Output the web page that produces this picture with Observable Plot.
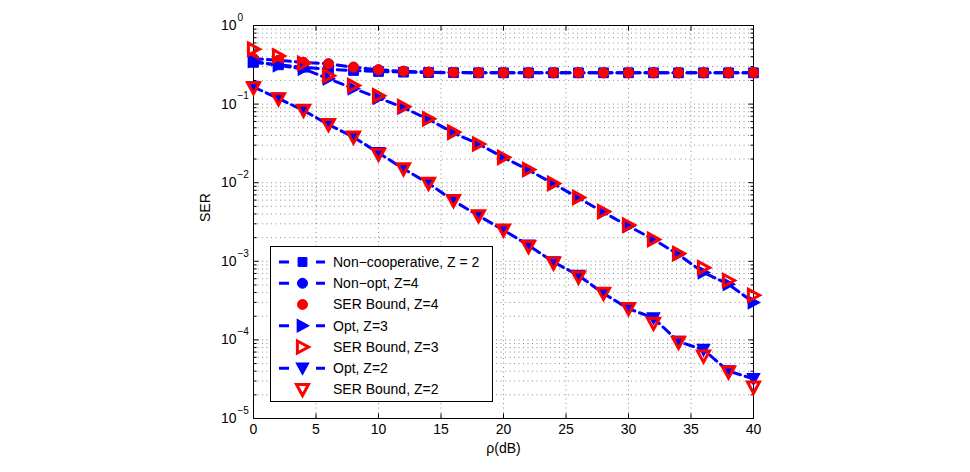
<!DOCTYPE html>
<html>
<head>
<meta charset="utf-8">
<script src="https://cdn.jsdelivr.net/npm/d3@7"></script>
<script src="https://cdn.jsdelivr.net/npm/@observablehq/plot@0.6"></script>
<style>
  html, body { margin: 0; padding: 0; background: #fff; }
  #chart { width: 970px; height: 472px; }
</style>
</head>
<body>
<div id="chart"></div>
<script>
// ---- data ----
const rho = [0, 2, 4, 6, 8, 10, 12, 14, 16, 18, 20, 22, 24, 26, 28, 30, 32, 34, 36, 38, 40];
const serNonCoopZ2 = [0.34, 0.316, 0.295, 0.276, 0.268, 0.26, 0.255, 0.252, 0.251, 0.25, 0.25, 0.25, 0.25, 0.25, 0.25, 0.25, 0.25, 0.25, 0.25, 0.25, 0.25];
const serNonOptZ4 = [0.38, 0.36, 0.34, 0.325, 0.295, 0.273, 0.262, 0.255, 0.252, 0.251, 0.25, 0.25, 0.25, 0.25, 0.25, 0.25, 0.25, 0.25, 0.25, 0.25, 0.25];
const serBoundZ4 = [0.38, 0.36, 0.34, 0.325, 0.295, 0.273, 0.262, 0.255, 0.252, 0.251, 0.25, 0.25, 0.25, 0.25, 0.25, 0.25, 0.25, 0.25, 0.25, 0.25, 0.25];
const serOptZ3 = [0.35, 0.31, 0.28, 0.21, 0.158, 0.12, 0.09, 0.064, 0.043, 0.031, 0.021, 0.0145, 0.0097, 0.0064, 0.0042, 0.0028, 0.0019, 0.00122, 0.00072, 0.00051, 0.0003];
const serBoundZ3 = [0.50, 0.41, 0.33, 0.23, 0.172, 0.128, 0.093, 0.065, 0.044, 0.031, 0.021, 0.0147, 0.0098, 0.0065, 0.0043, 0.0029, 0.0019, 0.00126, 0.00083, 0.00057, 0.00037];
const serOptZ2 = [0.165, 0.118, 0.083, 0.055, 0.038, 0.024, 0.015, 0.0098, 0.0059, 0.0038, 0.0025, 0.0016, 0.00098, 0.00066, 0.00039, 0.00025, 0.00019, 0.000095, 0.000075, 0.00004, 0.000032];
const serBoundZ2 = [0.161, 0.117, 0.083, 0.055, 0.038, 0.023, 0.015, 0.0098, 0.0059, 0.0038, 0.0025, 0.00154, 0.00095, 0.00063, 0.00039, 0.00025, 0.000162, 0.000093, 0.000062, 0.000039, 0.000025];

const seriesNames = ["Non\u2212cooperative, Z = 2", "Non\u2212opt, Z=4", "SER Bound, Z=4", "Opt, Z=3", "SER Bound, Z=3", "Opt, Z=2", "SER Bound, Z=2"];
const xTicks = [0, 5, 10, 15, 20, 25, 30, 35, 40];
const yDecades = [1, 1e-1, 1e-2, 1e-3, 1e-4, 1e-5];
const yExponents = ["0", "\u22121", "\u22122", "\u22123", "\u22124", "\u22125"];
const xLabel = "\u03c1(dB)";
const yLabel = "SER";

// ---- styling ----
const blue = "#0000ff";
const red = "#ff0000";
const fontFamily = "'Liberation Sans', Arial, Helvetica, sans-serif";

// custom marker symbols
const triRight = {draw(ctx, size) { const r = Math.sqrt(size / Math.PI); ctx.moveTo(-0.85 * r, -r); ctx.lineTo(r, 0); ctx.lineTo(-0.85 * r, r); ctx.closePath(); }};
const triDown = {draw(ctx, size) { const r = Math.sqrt(size / Math.PI); ctx.moveTo(-r, -0.85 * r); ctx.lineTo(r, -0.85 * r); ctx.lineTo(0, r); ctx.closePath(); }};
const tickUp = (len) => ({draw(ctx) { ctx.moveTo(0, 0); ctx.lineTo(0, -len); }});
const tickDown = (len) => ({draw(ctx) { ctx.moveTo(0, 0); ctx.lineTo(0, len); }});
const tickRightS = (len) => ({draw(ctx) { ctx.moveTo(0, 0); ctx.lineTo(len, 0); }});
const tickLeftS = (len) => ({draw(ctx) { ctx.moveTo(0, 0); ctx.lineTo(-len, 0); }});

const toRows = (vals) => rho.map((x, i) => ({x, y: vals[i]}));
const rNonCoop = toRows(serNonCoopZ2);
const rNonOpt = toRows(serNonOptZ4);
const rBound4 = toRows(serBoundZ4);
const rOpt3 = toRows(serOptZ3);
const rBound3 = toRows(serBoundZ3);
const rOpt2 = toRows(serOptZ2);
const rBound2 = toRows(serBoundZ2);

const yMinor = [];
for (const d of [1e-5, 1e-4, 1e-3, 1e-2, 1e-1]) for (let k = 2; k <= 9; k++) yMinor.push(d * k);
const yGrid = yDecades.concat(yMinor);

const dash = "9,5";
const lineOpts = {x: "x", y: "y", stroke: blue, strokeWidth: 3, strokeDasharray: dash};
const gridOpts = {stroke: "#000", strokeOpacity: 0.45, strokeWidth: 1, strokeDasharray: "1,3.5"};

const svg = Plot.plot({
  width: 970,
  height: 472,
  marginLeft: 253,
  marginRight: 217,
  marginTop: 25,
  marginBottom: 54,
  style: {fontFamily, fontSize: "14px", background: "#fff", color: "#000"},
  x: {domain: [0, 40], axis: null},
  y: {type: "log", domain: [1e-5, 1], axis: null},
  marks: [
    // grid
    Plot.ruleX(xTicks, {x: d => d, ...gridOpts}),
    Plot.ruleY(yGrid, {y: d => d, ...gridOpts}),
    Plot.frame({stroke: "#000", strokeWidth: 1}),
    // ticks (inward)
    Plot.dot(xTicks, {x: d => d, frameAnchor: "bottom", symbol: tickUp(5), r: 3, fill: "none", stroke: "#000", strokeWidth: 1}),
    Plot.dot(xTicks, {x: d => d, frameAnchor: "top", symbol: tickDown(5), r: 3, fill: "none", stroke: "#000", strokeWidth: 1}),
    Plot.dot(yDecades, {y: d => d, frameAnchor: "left", symbol: tickRightS(5), r: 3, fill: "none", stroke: "#000", strokeWidth: 1}),
    Plot.dot(yDecades, {y: d => d, frameAnchor: "right", symbol: tickLeftS(5), r: 3, fill: "none", stroke: "#000", strokeWidth: 1}),
    Plot.dot(yMinor, {y: d => d, frameAnchor: "left", symbol: tickRightS(3), r: 3, fill: "none", stroke: "#000", strokeWidth: 1}),
    Plot.dot(yMinor, {y: d => d, frameAnchor: "right", symbol: tickLeftS(3), r: 3, fill: "none", stroke: "#000", strokeWidth: 1}),
    // tick labels
    Plot.text(xTicks, {x: d => d, frameAnchor: "bottom", dy: 15, text: d => String(d), fontSize: 14}),
    Plot.text(yDecades, {y: d => d, frameAnchor: "left", dx: -17, textAnchor: "end", text: () => "10", fontSize: 14}),
    Plot.text(yDecades, {y: d => d, frameAnchor: "left", dx: -16, dy: -8, textAnchor: "start", text: (d, i) => yExponents[i], fontSize: 10}),
    // axis labels
    Plot.text([xLabel], {frameAnchor: "bottom", dy: 34, text: d => d, fontSize: 14}),
    Plot.text([yLabel], {frameAnchor: "left", dx: -48, rotate: -90, text: d => d, fontSize: 14}),
    // series
    Plot.line(rNonCoop, lineOpts),
    Plot.dot(rNonCoop, {x: "x", y: "y", symbol: "square", r: 5.5, fill: blue, stroke: blue, strokeWidth: 1}),
    Plot.line(rNonOpt, lineOpts),
    Plot.dot(rNonOpt, {x: "x", y: "y", symbol: "circle", r: 5, fill: blue, stroke: blue, strokeWidth: 1}),
    Plot.dot(rBound4, {x: "x", y: "y", symbol: "circle", r: 5, fill: red, stroke: red, strokeWidth: 1}),
    Plot.line(rOpt3, lineOpts),
    Plot.dot(rOpt3, {x: "x", y: "y", symbol: triRight, r: 6, fill: blue, stroke: blue, strokeWidth: 1.5}),
    Plot.dot(rBound3, {x: "x", y: "y", symbol: triRight, r: 6, fill: "none", stroke: red, strokeWidth: 3}),
    Plot.line(rOpt2, lineOpts),
    Plot.dot(rOpt2, {x: "x", y: "y", symbol: triDown, r: 6, fill: blue, stroke: blue, strokeWidth: 1.5}),
    Plot.dot(rBound2, {x: "x", y: "y", symbol: triDown, r: 6, fill: "none", stroke: red, strokeWidth: 3})
  ]
});

// ---- legend (inside the axes) ----
const legendItems = [
  {line: true, symbol: d3.symbolSquare, r: 5, fill: blue, stroke: blue, sw: 1},
  {line: true, symbol: d3.symbolCircle, r: 5, fill: blue, stroke: blue, sw: 1},
  {line: false, symbol: d3.symbolCircle, r: 5, fill: red, stroke: red, sw: 1},
  {line: true, symbol: triRight, r: 6, fill: blue, stroke: blue, sw: 1.5},
  {line: false, symbol: triRight, r: 6, fill: "none", stroke: red, sw: 3},
  {line: true, symbol: triDown, r: 6, fill: blue, stroke: blue, sw: 1.5},
  {line: false, symbol: triDown, r: 6, fill: "none", stroke: red, sw: 3}
];
const s = d3.select(svg);
const lg = s.append("g").attr("font-family", fontFamily).attr("font-size", 14).attr("text-anchor", "start");
lg.append("rect").attr("x", 270.5).attr("y", 246.5).attr("width", 222).attr("height", 155)
  .attr("fill", "#fff").attr("stroke", "#000").attr("stroke-width", 1);
legendItems.forEach((it, i) => {
  const cy = 262 + i * 21.25;
  if (it.line) {
    lg.append("line").attr("x1", 279).attr("x2", 289).attr("y1", cy).attr("y2", cy).attr("stroke", blue).attr("stroke-width", 3);
    lg.append("line").attr("x1", 316).attr("x2", 325).attr("y1", cy).attr("y2", cy).attr("stroke", blue).attr("stroke-width", 3);
  }
  lg.append("path").attr("transform", `translate(302.5,${cy})`)
    .attr("d", d3.symbol().type(it.symbol).size(it.r * it.r * Math.PI)())
    .attr("fill", it.fill).attr("stroke", it.stroke).attr("stroke-width", it.sw);
  lg.append("text").attr("x", 333).attr("y", cy).attr("dy", "0.35em").attr("text-anchor", "start").text(seriesNames[i]);
});

document.getElementById("chart").appendChild(svg);
</script>
</body>
</html>
